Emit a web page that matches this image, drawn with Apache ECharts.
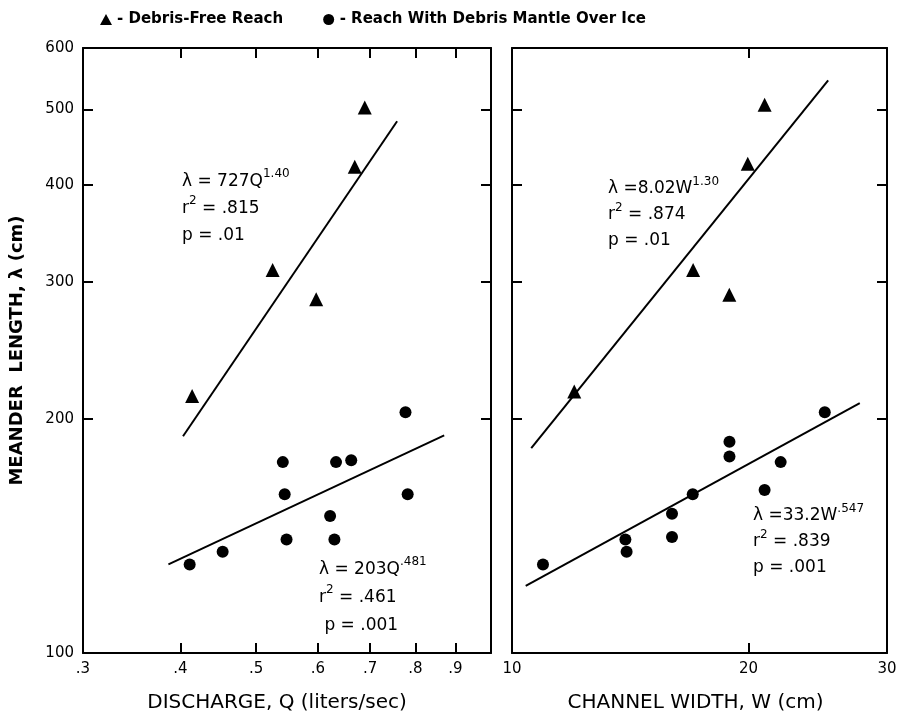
<!DOCTYPE html>
<html>
<head>
<meta charset="utf-8">
<script src="https://cdn.jsdelivr.net/npm/echarts@6/dist/echarts.min.js"></script>
<style>
  html, body { margin: 0; padding: 0; background: #fff; }
  #chart { width: 906px; height: 718px; }
</style>
</head>
<body>
<div id="chart"></div>
<script>
// [discharge Q (l/s), meander length (cm)]
const freeByQ = [[0.414, 214], [0.525, 311], [0.597, 285], [0.669, 422], [0.689, 503]];
const mantleByQ = [
  [0.411, 130], [0.453, 135], [0.541, 176], [0.544, 160], [0.547, 140], [0.622, 150],
  [0.630, 140], [0.633, 176], [0.662, 177], [0.777, 204], [0.782, 160]
];
// [channel width W (cm), meander length (cm)]
const freeByW = [[12.0, 217], [17.0, 311], [18.9, 289], [19.95, 426], [20.96, 507]];
const mantleByW = [
  [10.95, 130], [13.94, 140], [13.99, 135], [15.98, 141], [15.98, 151], [16.98, 160],
  [18.91, 187], [18.91, 179], [20.96, 162], [21.97, 176], [25.0, 204]
];
// fitted lines, ends as drawn on the figure
const fitFreeQ = [[0.403, 190], [0.758, 483]];
const fitMantleQ = [[0.386, 130], [0.871, 190.5]];
const fitFreeW = [[10.58, 183.5], [25.25, 545]];
const fitMantleW = [[10.41, 122], [27.7, 209.6]];

const lambdaTicks = [200, 300, 400, 500];
const lambdaLabels = [100, 200, 300, 400, 500, 600];
const qTicks = [0.4, 0.5, 0.6, 0.7, 0.8, 0.9];
const qLabels = [0.3, 0.4, 0.5, 0.6, 0.7, 0.8, 0.9];
const wTicks = [20];
const wLabels = [10, 20, 30];

const legendNames = ['- Debris-Free Reach', '- Reach With Debris Mantle Over Ice'];

const FONT = 'DejaVu Sans';
const ink = '#000';

function logAxis(gridIndex, position, min, max, ticks, labels, extra) {
  return Object.assign({
    type: 'log',
    logBase: 10,
    gridIndex,
    position,
    min,
    max,
    axisLine: { show: true, onZero: false, lineStyle: { color: ink, width: 2 } },
    axisTick: { show: true, inside: true, length: 10, customValues: ticks, lineStyle: { color: ink, width: 2 } },
    axisLabel: labels
      ? { show: true, customValues: labels, color: ink, fontFamily: FONT, fontSize: 15, margin: 9 }
      : { show: false },
    splitLine: { show: false },
    minorTick: { show: false }
  }, extra || {});
}

const qFormat = v => '.' + Math.round(v * 10);
const intFormat = v => String(Math.round(v));

const nameStyle = { color: ink, fontFamily: FONT, fontSize: 20 };

// axis index 0/1: left panel (bottom|left, top|right), 2/3: right panel
const xAxis = [
  logAxis(0, 'bottom', 0.3, 1.0, qTicks, qLabels, {
    name: 'DISCHARGE, Q (liters/sec)', nameLocation: 'middle', nameGap: 40,
    nameTextStyle: Object.assign({ padding: [0, 20, 0, 0] }, nameStyle)
  }),
  logAxis(0, 'top', 0.3, 1.0, qTicks, null),
  logAxis(1, 'bottom', 10, 30, wTicks, wLabels, {
    name: 'CHANNEL WIDTH, W (cm)', nameLocation: 'middle', nameGap: 40,
    nameTextStyle: Object.assign({ padding: [0, 8, 0, 0] }, nameStyle)
  }),
  logAxis(1, 'top', 10, 30, wTicks, null)
];
xAxis[0].axisLabel.formatter = qFormat;
xAxis[2].axisLabel.formatter = intFormat;

const yAxis = [
  logAxis(0, 'left', 100, 600, lambdaTicks, lambdaLabels, {
    name: 'MEANDER  LENGTH, λ (cm)', nameLocation: 'middle', nameGap: 57,
    nameTextStyle: { color: ink, fontFamily: FONT, fontSize: 18, fontWeight: 'bold' }
  }),
  logAxis(0, 'right', 100, 600, lambdaTicks, null),
  logAxis(1, 'left', 100, 600, lambdaTicks, null),
  logAxis(1, 'right', 100, 600, lambdaTicks, null)
];
yAxis[0].axisLabel.formatter = intFormat;

function points(name, symbol, size, axisIndex, data) {
  return {
    type: 'scatter', name, symbol, symbolSize: size,
    xAxisIndex: axisIndex, yAxisIndex: axisIndex,
    itemStyle: { color: ink, opacity: 1 }, data
  };
}

function fitLine(axisIndex, data) {
  return {
    type: 'line', xAxisIndex: axisIndex, yAxisIndex: axisIndex,
    showSymbol: false, symbol: 'none', silent: true,
    lineStyle: { color: ink, width: 2 }, data
  };
}

// regression notes; superscripts through rich text
const rich = {
  m: { fontFamily: FONT, fontSize: 17, lineHeight: 27, fill: ink },
  s: { fontFamily: FONT, fontSize: 12, lineHeight: 6, verticalAlign: 'top', fill: ink }
};

function note(x, y, eq, exp, r2, p, lh) {
  const r = JSON.parse(JSON.stringify(rich));
  if (lh) r.m.lineHeight = lh;
  return {
    type: 'text', left: x, top: y, silent: true,
    style: {
      text: `{m|λ ${eq}}{s|${exp}}\n{m|r}{s|2}{m| = ${r2}}\n{m|${p}}`,
      rich: r
    }
  };
}

const chart = echarts.init(document.getElementById('chart'), null, { renderer: 'canvas' });

chart.setOption({
  backgroundColor: '#fff',
  animation: false,
  legend: {
    data: legendNames,
    left: 95,
    top: 7,
    itemGap: 40,
    itemWidth: 12,
    itemHeight: 11,
    textStyle: { color: ink, fontFamily: FONT, fontSize: 15, fontWeight: 'bold' }
  },
  grid: [
    { left: 83, top: 48, width: 408, height: 607 },
    { left: 512, top: 48, width: 375, height: 607 }
  ],
  xAxis,
  yAxis,
  graphic: [
    note(182, 168, '= 727Q', '1.40', '.815', 'p = .01'),
    note(319, 556, '= 203Q', '.481', '.461', ' p = .001', 28),
    note(608, 176, '=8.02W', '1.30', '.874', 'p = .01', 26),
    note(753, 503, '=33.2W', '.547', '.839', 'p = .001', 26)
  ],
  series: [
    points(legendNames[0], 'triangle', 14, 0, freeByQ),
    points(legendNames[1], 'circle', 12, 0, mantleByQ),
    points(legendNames[0], 'triangle', 14, 2, freeByW),
    points(legendNames[1], 'circle', 12, 2, mantleByW),
    fitLine(0, fitFreeQ),
    fitLine(0, fitMantleQ),
    fitLine(2, fitFreeW),
    fitLine(2, fitMantleW)
  ]
});
</script>
</body>
</html>
